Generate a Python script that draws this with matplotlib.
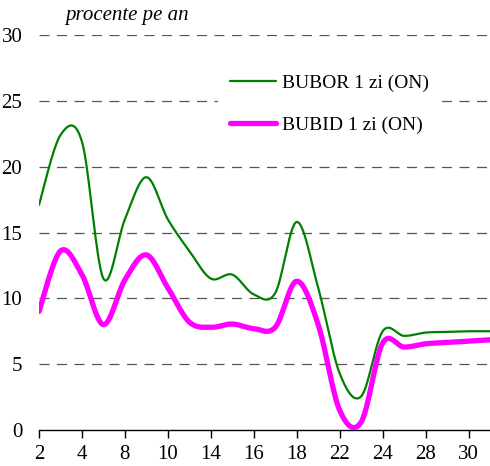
import numpy as np
import matplotlib
matplotlib.use("Agg")
import matplotlib.pyplot as plt

days = [2, 3, 4, 7, 8, 9, 10, 11, 14, 15, 16, 17, 18, 21, 22, 23, 24, 25, 28, 29, 30, 31]
bubor = [17.1, 22.4, 21.9, 11.5, 16.0, 19.2, 16.0, 13.6, 11.5, 11.8, 10.3, 10.4,
         15.8, 10.8, 4.3, 2.55, 7.5, 7.15, 7.4, 7.45, 7.5, 7.5]
bubid = [9.0, 13.6, 11.8, 8.0, 11.4, 13.3, 10.8, 8.2, 7.8, 8.05, 7.7, 7.8,
         11.3, 8.0, 1.5, 0.6, 6.6, 6.3, 6.55, 6.65, 6.75, 6.85]
label_bubor = "BUBOR 1 zi (ON)"
label_bubid = "BUBID 1 zi (ON)"
ylabel_text = "procente pe an"
yticks = [0, 5, 10, 15, 20, 25, 30]

plt.rcParams['font.family'] = ['Liberation Serif', 'DejaVu Serif']


def smooth(xs, ys, n=30):
    """Catmull-Rom smoothing (like Excel's smoothed line) for rendering."""
    P = np.column_stack([xs, ys]).astype(float)
    P = np.vstack([P[0], P, P[-1]])
    out = []
    t = np.linspace(0, 1, n, endpoint=False)
    for i in range(1, len(P) - 2):
        p0, p1, p2, p3 = P[i - 1], P[i], P[i + 1], P[i + 2]
        m1 = (p2 - p0) / 2.0
        m2 = (p3 - p1) / 2.0
        h00 = 2 * t**3 - 3 * t**2 + 1
        h10 = t**3 - 2 * t**2 + t
        h01 = -2 * t**3 + 3 * t**2
        h11 = t**3 - t**2
        seg = (h00[:, None] * p1 + h10[:, None] * m1 + h01[:, None] * p2 + h11[:, None] * m2)
        out.append(seg)
    out.append(P[-2][None, :])
    arr = np.vstack(out)
    return arr[:, 0], arr[:, 1]


fig = plt.figure(figsize=(4.9, 4.66), dpi=100)
ax = fig.add_axes([39 / 490, 36 / 466, 1 - 39 / 490, (430 - 35) / 466])

x = np.arange(len(days))
sx, sy = smooth(x, bubor)
ax.plot(sx, sy, color='#008000', lw=1.6, label=label_bubor, solid_capstyle='round', zorder=3)
sx, sy = smooth(x, bubid)
ax.plot(sx, sy, color='#ff00ff', lw=3.8, label=label_bubid, solid_capstyle='round', zorder=3)

ax.set_xlim(0, len(days) - 1)
ax.set_ylim(0, 30)
ax.set_yticks(yticks)
ax.set_yticklabels([str(v) for v in yticks], fontsize=15)
ax.set_xticks(x[::2])
ax.set_xticklabels([str(d) for d in days[::2]], fontsize=15)

for v in yticks[1:]:
    ax.axhline(v, color='#555555', lw=0.9, dashes=(8, 6), zorder=1)

for s in ['top', 'right', 'left']:
    ax.spines[s].set_visible(False)
ax.spines['bottom'].set_linewidth(1.0)
ax.tick_params(axis='y', length=0, pad=12)
ax.tick_params(axis='x', direction='out', length=6, width=1, pad=5)

ax.text(0.058, 1.05, ylabel_text, transform=ax.transAxes, fontsize=15,
        style='italic', ha='left', va='center')

leg = ax.legend(loc='upper left', bbox_to_anchor=(0.375, 0.955), frameon=True,
                fontsize=14, handlelength=2.4, handletextpad=0.3,
                labelspacing=1.25, borderpad=0.6)
leg.get_frame().set_edgecolor('none')
leg.get_frame().set_facecolor('white')
leg.get_frame().set_alpha(1)
leg.set_zorder(5)

fig.savefig("out.png", dpi=100)
